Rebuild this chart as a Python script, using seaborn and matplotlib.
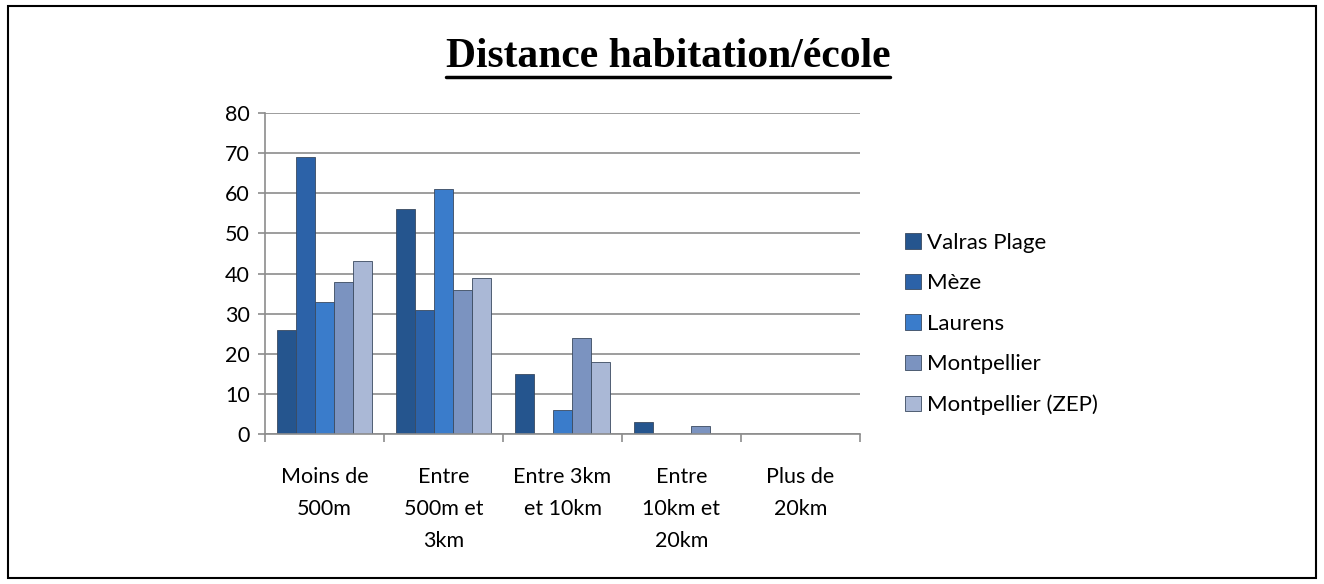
import matplotlib
matplotlib.use("Agg")
import matplotlib.pyplot as plt
import seaborn as sns
import pandas as pd
from matplotlib.patches import Rectangle
from matplotlib.lines import Line2D

categories = ["Moins de\n500m", "Entre\n500m et\n3km", "Entre 3km\net 10km", "Entre\n10km et\n20km", "Plus de\n20km"]
series = ["Valras Plage", "Mèze", "Laurens", "Montpellier", "Montpellier (ZEP)"]
valras = [26, 56, 15, 3, 0]
meze = [69, 31, 0, 0, 0]
laurens = [33, 61, 6, 0, 0]
montpellier = [38, 36, 24, 2, 0]
zep = [43, 39, 18, 0, 0]
colors = ["#25558e", "#2c62a8", "#3a7ccb", "#7b93c0", "#aab8d6"]

rows = []
for name, vals in zip(series, [valras, meze, laurens, montpellier, zep]):
    for c, v in zip(categories, vals):
        rows.append({"cat": c, "serie": name, "val": v})
df = pd.DataFrame(rows)

sns.set_theme(style="white")
plt.rcParams['font.family'] = ['Lato', 'DejaVu Sans']
plt.rcParams['text.color'] = 'black'
plt.rcParams['xtick.color'] = 'black'
plt.rcParams['ytick.color'] = 'black'

W, H = 1324, 584
fig = plt.figure(figsize=(W / 100, H / 100), dpi=100)
ax = fig.add_axes([265 / W, 1 - 434 / H, (860 - 265) / W, (434 - 113) / H])

sns.barplot(data=df, x="cat", y="val", hue="serie", palette=colors, ax=ax, saturation=1,
            width=0.8, edgecolor="#3a4a60", linewidth=0.6, legend=True)

ax.set_ylim(0, 80)
ax.set_yticks(range(0, 81, 10))
ax.set_xlim(-0.5, 4.5)
ax.yaxis.grid(True, color="#8c8c8c", linewidth=1.2)
ax.set_axisbelow(True)
ax.set_xlabel("")
ax.set_ylabel("")
for s in ["top", "right"]:
    ax.spines[s].set_visible(False)
for s in ["left", "bottom"]:
    ax.spines[s].set_color("#8c8c8c")
    ax.spines[s].set_linewidth(1.2)
ax.tick_params(axis="y", length=5, color="#8c8c8c", labelcolor="black", width=1.2, labelsize=15.5, pad=6, left=True)
ax.set_xticks(range(len(categories)))
ax.set_xticklabels(categories, linespacing=1.75, fontsize=15.5, color="black", va="top")
ax.tick_params(axis="x", which="major", length=0, pad=24)
ax.set_xticks([i + 0.5 for i in range(-1, 5)], minor=True)
ax.tick_params(axis="x", which="minor", length=6, color="#8c8c8c", width=1.2, bottom=True)

h, l = ax.get_legend_handles_labels()
ax.legend_.remove()
fig.legend(h, l, loc="upper left", bbox_to_anchor=(885 / W, 1 - 213 / H), frameon=False,
           fontsize=16, handlelength=0.7, handleheight=0.7, labelspacing=0.92, handletextpad=0.3,
           labelcolor="black")

t = fig.text(668 / W, 1 - 57 / H, "Distance habitation/école", ha="center", va="center",
             fontsize=30, fontweight="bold", family="Liberation Serif", color="black")
fig.canvas.draw()
bb = t.get_window_extent()
fig.add_artist(Line2D([bb.x0 / W, bb.x1 / W], [(bb.y0 - 1) / H, (bb.y0 - 1) / H],
                      color="black", linewidth=2.5, transform=fig.transFigure))
fig.add_artist(Rectangle((8 / W, 6 / H), (1316 - 8) / W, (578 - 6) / H, fill=False,
                         edgecolor="black", linewidth=1.5, transform=fig.transFigure))

fig.savefig("out.png", dpi=100)
